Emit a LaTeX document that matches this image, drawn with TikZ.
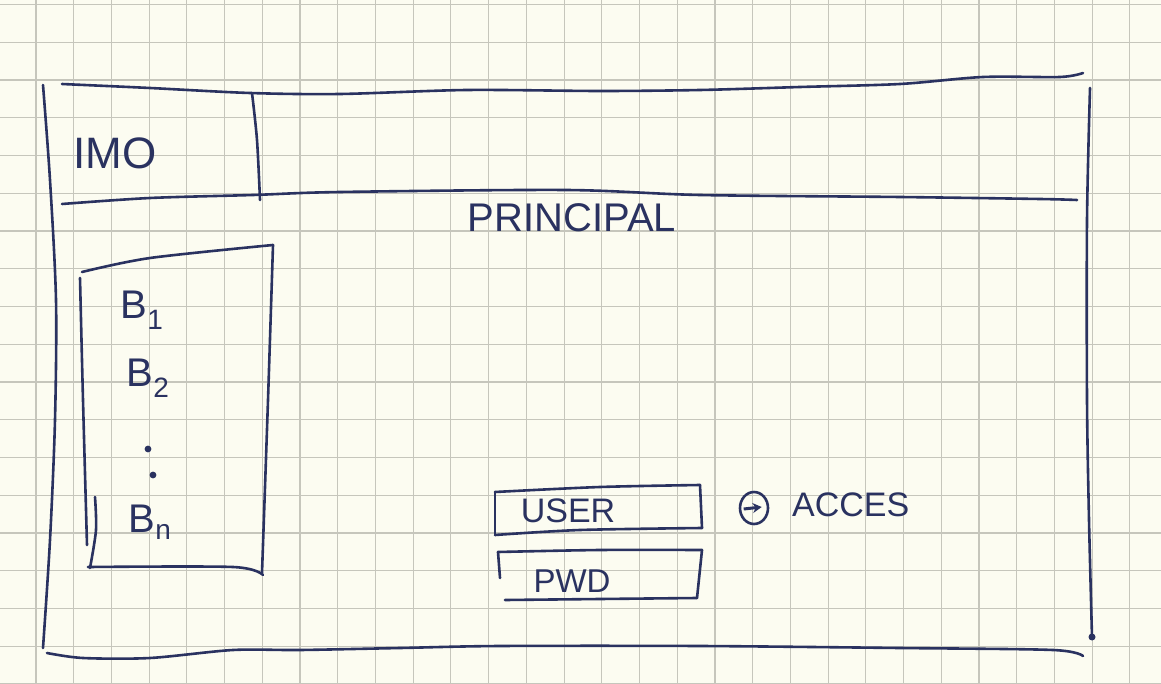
\documentclass[tikz,border=0pt]{standalone}
\usepackage{fontspec}
\setmainfont{Liberation Sans}
\usetikzlibrary{arrows.meta,shapes.geometric}
\definecolor{paper}{HTML}{FCFCF1}
\definecolor{gridc}{HTML}{C6C6BC}
\definecolor{ink}{HTML}{2A3260}
\tikzset{
  pen/.style={draw=ink, line width=2.6pt, line cap=round, line join=round},
  hand/.style={text=ink, inner sep=0pt, font=\fontsize{#1}{#1}\selectfont},
  hand/.default=34
}
\begin{document}
\begin{tikzpicture}[x=1pt,y=-1pt]
\useasboundingbox (0,0) rectangle (1161,684);
\fill[paper] (0,0) rectangle (1161,684);
% grid paper
\foreach \k in {0,...,30} \draw[gridc, line width=1.1pt] ({36+37.72*\k},0) -- ({36+37.72*\k},684);
\foreach \k in {0,...,18} \draw[gridc, line width=1.1pt] (0,{4.5+37.75*\k}) -- (1161,{4.5+37.75*\k});
% outer frame
\draw[pen] plot[smooth] coordinates {(62,84) (150,88) (250,93) (340,94) (467,90) (600,91) (700,90) (800,87) (900,84) (983,77) (1060,77) (1083,73)};
\draw[pen] plot[smooth] coordinates {(43,85) (50,180) (56,300) (55,420) (50,540) (43,648)};
\draw[pen] plot[smooth] coordinates {(47,653) (83,658) (150,658) (233,650) (300,650) (400,648) (500,646) (700,646) (900,648) (1053,650) (1083,656)};
\draw[pen] plot[smooth] coordinates {(1090,88) (1087,220) (1087,400) (1089,520) (1092,637)};
\fill[ink] (1092,637) circle (3.5);
% header
\draw[pen] plot[smooth] coordinates {(62,204) (150,198) (253,195) (340,192) (566,190) (700,195) (900,197) (1040,199) (1077,200)};
\draw[pen] plot[smooth] coordinates {(252,93) (257,140) (260,200)};
\node[hand=44] (imo) at (115,153) {IMO};
\node[hand=40] (principal) at (572,218) {PRINCIPAL};
% sidebar
\draw[pen] plot[smooth] coordinates {(82,272) (150,258) (273,245)};
\draw[pen] plot[smooth] coordinates {(273,245) (268,400) (262,573)};
\draw[pen] plot[smooth] coordinates {(88,567) (233,567) (263,575)};
\draw[pen] plot[smooth] coordinates {(80,278) (83,400) (87,545)};
\draw[pen] plot[smooth] coordinates {(95,497) (96,530) (90,568)};
\node[hand=40] (b1) at (142,310) {B\textsubscript{1}};
\node[hand=40] (b2) at (148,378) {B\textsubscript{2}};
\fill[ink] (148,449) circle (3.4) (153,475) circle (3.4);
\node[hand=40] (bn) at (150,522) {B\textsubscript{n}};
% login
\draw[pen] plot[smooth] coordinates {(495,492) (600,487) (700,485)};
\draw[pen] (495,492) -- (495,535);
\draw[pen] (700,485) -- (702,528);
\draw[pen] plot[smooth] coordinates {(495,535) (580,530) (702,528)};
\node[hand=34] (user) at (568,511) {USER};
\draw[pen] plot[smooth] coordinates {(498,552) (600,550) (702,550)};
\draw[pen] (498,552) -- (500,578);
\draw[pen] (702,550) -- (697,598);
\draw[pen] plot[smooth] coordinates {(505,600) (600,599) (697,598)};
\node[hand=33] (pwd) at (572,581) {PWD};
\node[pen, ellipse, minimum width=28pt, minimum height=32pt, inner sep=0pt, line width=2.6pt] (icon) at (754,508) {};
\draw[ink, line width=3pt, -{Stealth[length=9pt,width=10pt]}] (icon.west) ++(5,1) -- ++(18,-2);
\node[hand=34, anchor=west] (acces) at (792,505) {ACCES};
\end{tikzpicture}
\end{document}
